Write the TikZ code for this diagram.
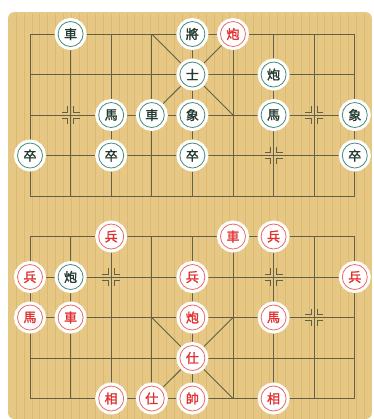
\documentclass[tikz,border=0pt]{standalone}
\usepackage{fontspec}
\newfontfamily\cjk{Noto Sans CJK TC}[FakeBold=1.6]
\definecolor{woodtan}{RGB}{230,200,132}
\definecolor{woodgrain}{RGB}{218,186,116}
\definecolor{gridline}{RGB}{98,96,70}
\definecolor{blackring}{RGB}{70,140,122}
\definecolor{blackink}{RGB}{35,58,48}
\definecolor{redring}{RGB}{236,104,98}
\definecolor{redink}{RGB}{226,48,48}
\tikzset{
	piece/.style={circle, minimum size=25pt, inner sep=0pt, fill=white, line width=0.8pt,
		preaction={draw=white, line width=7pt}, font=\cjk\fontsize{13}{13}\selectfont},
	blackpiece/.style={piece, draw=blackring, text=blackink},
	redpiece/.style={piece, draw=redring, text=redink},
	boardline/.style={gridline, line width=0.9pt},
}

\begin{document}
\begin{tikzpicture}[x=40.6pt, y=-40.5pt]
		\useasboundingbox (-0.739, -0.840) rectangle (8.473, 9.506);
		\fill[woodtan, rounded corners=6pt] (-0.54, -0.54) rectangle (8.42, 9.506);
		\foreach \g in {1,...,45}
			\draw[woodgrain, line width={0.3pt + 0.25pt*mod(\g,3)}] ({-0.54 + \g*0.195}, -0.5) -- ({-0.54 + \g*0.195}, 9.5);
		\foreach \c in {0,...,8} {
			\draw[boardline] (\c, 0) -- (\c, 4);
			\draw[boardline] (\c, 5) -- (\c, 9);
		}
		\foreach \r in {0,...,9}
			\draw[boardline] (0, \r) -- (8, \r);
		\draw[boardline] (3, 0) -- (5, 2);
		\draw[boardline] (5, 0) -- (3, 2);
		\draw[boardline] (3, 7) -- (5, 9);
		\draw[boardline] (5, 7) -- (3, 9);
		\foreach \c/\r in {1/2, 7/2, 0/3, 2/3, 4/3, 6/3, 8/3, 0/6, 2/6, 4/6, 6/6, 8/6, 1/7, 7/7} {
			\ifnum\c>0
				\draw[boardline, line width=0.7pt] ({\c-0.07}, {\r-0.22}) -- ({\c-0.07}, {\r-0.07}) -- ({\c-0.22}, {\r-0.07});
				\draw[boardline, line width=0.7pt] ({\c-0.07}, {\r+0.22}) -- ({\c-0.07}, {\r+0.07}) -- ({\c-0.22}, {\r+0.07});
			\fi
			\ifnum\c<8
				\draw[boardline, line width=0.7pt] ({\c+0.07}, {\r-0.22}) -- ({\c+0.07}, {\r-0.07}) -- ({\c+0.22}, {\r-0.07});
				\draw[boardline, line width=0.7pt] ({\c+0.07}, {\r+0.22}) -- ({\c+0.07}, {\r+0.07}) -- ({\c+0.22}, {\r+0.07});
			\fi
		}
		\node[blackpiece] (bche1) at (1, 0) {車};
		\node[blackpiece] (bjiang) at (4, 0) {將};
		\node[blackpiece] (bshi) at (4, 1) {士};
		\node[blackpiece] (bpao1) at (6, 1) {炮};
		\node[blackpiece] (bma1) at (2, 2) {馬};
		\node[blackpiece] (bche2) at (3, 2) {車};
		\node[blackpiece] (bxiang1) at (4, 2) {象};
		\node[blackpiece] (bma2) at (6, 2) {馬};
		\node[blackpiece] (bxiang2) at (8, 2) {象};
		\node[blackpiece] (bzu1) at (0, 3) {卒};
		\node[blackpiece] (bzu2) at (2, 3) {卒};
		\node[blackpiece] (bzu3) at (4, 3) {卒};
		\node[blackpiece] (bzu4) at (8, 3) {卒};
		\node[blackpiece] (bpao2) at (1, 6) {炮};
		\node[redpiece] (rpao1) at (5, 0) {炮};
		\node[redpiece] (rbing1) at (2, 5) {兵};
		\node[redpiece] (rche1) at (5, 5) {車};
		\node[redpiece] (rbing2) at (6, 5) {兵};
		\node[redpiece] (rbing3) at (0, 6) {兵};
		\node[redpiece] (rbing4) at (4, 6) {兵};
		\node[redpiece] (rbing5) at (8, 6) {兵};
		\node[redpiece] (rma1) at (0, 7) {馬};
		\node[redpiece] (rche2) at (1, 7) {車};
		\node[redpiece] (rpao2) at (4, 7) {炮};
		\node[redpiece] (rma2) at (6, 7) {馬};
		\node[redpiece] (rshi1) at (4, 8) {仕};
		\node[redpiece] (rxiang1) at (2, 9) {相};
		\node[redpiece] (rshi2) at (3, 9) {仕};
		\node[redpiece] (rshuai) at (4, 9) {帥};
		\node[redpiece] (rxiang2) at (6, 9) {相};
	\end{tikzpicture}
\end{document}
